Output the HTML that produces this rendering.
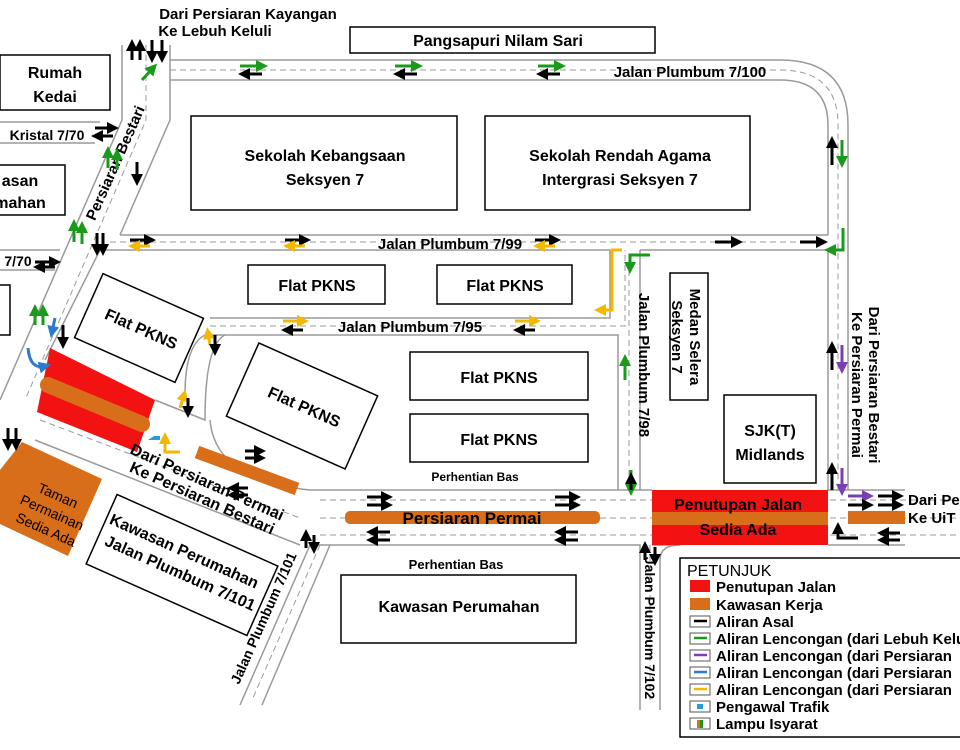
<!DOCTYPE html>
<html><head><meta charset="utf-8"><style>
body{margin:0;background:#fff}
svg{display:block;font-family:"Liberation Sans",Arial,sans-serif;font-weight:bold}
</style></head><body>
<svg width="960" height="750" viewBox="0 0 960 750" xmlns="http://www.w3.org/2000/svg">
<defs>
<marker id="ak" markerWidth="4" markerHeight="4" refX="2" refY="2" orient="auto"><path d="M0,0L4,2L0,4z" fill="#000"/></marker>
<marker id="ag" markerWidth="4" markerHeight="4" refX="2" refY="2" orient="auto"><path d="M0,0L4,2L0,4z" fill="#1a9a1a"/></marker>
<marker id="ay" markerWidth="4" markerHeight="4" refX="2" refY="2" orient="auto"><path d="M0,0L4,2L0,4z" fill="#f5b800"/></marker>
<marker id="ap" markerWidth="4" markerHeight="4" refX="2" refY="2" orient="auto"><path d="M0,0L4,2L0,4z" fill="#7a3fb0"/></marker>
<marker id="ab" markerWidth="4" markerHeight="4" refX="2" refY="2" orient="auto"><path d="M0,0L4,2L0,4z" fill="#2a7ad0"/></marker>
</defs>
<rect width="960" height="750" fill="#fff"/>
<g fill="none" stroke="#9a9a9a" stroke-width="1.5">
<path d="M170,60 H780 Q848,60 848,125 V490"/>
<path d="M170,80 H780 Q828,80 828,125 V235"/>
<path d="M122,45 V120 L0,400"/>
<path d="M170,45 V120 L120,235"/>
<path d="M120,235 H828"/>
<path d="M100,250 H610"/><path d="M640,250 H828 V490"/>
<path d="M610,250 V318 H210"/><path d="M640,250 V490"/>
<path d="M210,335 H618 V490"/>
<path d="M100,250 L45,360"/>
<path d="M155,400 L205,420 Q205,345 225,335"/>
<path d="M205,335 Q185,345 185,395"/>
<path d="M210,420 Q215,480 310,490 H652"/>
<path d="M35,440 L300,545"/>
<path d="M310,545 H640 V710"/><path d="M660,710 V560 Q660,545 680,545 H652"/>
<path d="M310,545 L240,705"/><path d="M330,545 L262,705"/>
<path d="M828,490 H905"/><path d="M828,545 H905"/>
<path d="M0,122 H100"/><path d="M0,143 H95"/>
<path d="M0,250 H60"/><path d="M0,270 H55"/>
</g>
<g fill="none" stroke="#9a9a9a" stroke-width="1" stroke-dasharray="6,4">
<path d="M170,70 H780 Q838,70 838,125 V490"/>
<path d="M146,45 V120 L25,400"/>
<path d="M110,242 H830"/>
<path d="M210,326 H625 V250"/><path d="M629,260 V490"/>
<path d="M320,518 H960"/><path d="M320,500 H960"/><path d="M320,535 H960"/>
<path d="M40,420 L300,518"/>
<path d="M650,545 V700"/><path d="M320,545 L252,700"/>
</g>
<polygon points="50,348 155,400 137,452 37,412" fill="#f31212"/>
<line x1="48" y1="385" x2="142" y2="424" stroke="#d86d1a" stroke-width="16" stroke-linecap="round"/>
<rect x="652" y="490" width="176" height="55" fill="#f31212"/>
<rect x="652" y="512" width="176" height="13" fill="#d86d1a"/>
<rect x="345" y="511" width="255" height="13" rx="5" fill="#d86d1a"/>
<rect x="848" y="511" width="57" height="13" fill="#d86d1a"/>
<line x1="197" y1="452" x2="297" y2="489" stroke="#d86d1a" stroke-width="13"/>
<polygon points="22,442 102,479 68,556 0,524 0,470" fill="#d86d1a"/>
<g fill="#fff" stroke="#000" stroke-width="1.5">
<rect x="0" y="55" width="110" height="55"/>
<rect x="-2" y="165" width="67" height="50"/>
<rect x="-2" y="285" width="12" height="50"/>
<rect x="350" y="27" width="305" height="26"/>
<rect x="191" y="116" width="266" height="94"/>
<rect x="485" y="116" width="265" height="94"/>
<rect x="248" y="265" width="137" height="39"/>
<rect x="437" y="265" width="135" height="39"/>
<rect x="410" y="352" width="178" height="48"/>
<rect x="410" y="414" width="178" height="48"/>
<rect x="670" y="273" width="38" height="127"/>
<rect x="724" y="395" width="92" height="88"/>
<rect x="341" y="575" width="235" height="68"/>
<rect x="-55" y="-35" width="110" height="70" transform="translate(139,328) rotate(24)"/>
<rect x="-65" y="-40" width="130" height="80" transform="translate(302,406) rotate(24)"/>
<rect x="-88" y="-38" width="176" height="76" transform="translate(182,565) rotate(24)"/>
</g>
<g font-size="16" text-anchor="middle" fill="#000">
<text x="55" y="78">Rumah</text><text x="55" y="102">Kedai</text>
<text x="20" y="186">asan</text><text x="20" y="208">mahan</text>
<text x="498" y="46">Pangsapuri Nilam Sari</text>
<text x="325" y="161">Sekolah Kebangsaan</text><text x="325" y="185">Seksyen 7</text>
<text x="620" y="161">Sekolah Rendah Agama</text><text x="620" y="185">Intergrasi Seksyen 7</text>
<text x="317" y="291">Flat PKNS</text><text x="505" y="291">Flat PKNS</text>
<text x="499" y="383">Flat PKNS</text><text x="499" y="445">Flat PKNS</text>
<text x="770" y="436">SJK(T)</text><text x="770" y="460">Midlands</text>
<text x="459" y="612">Kawasan Perumahan</text>
<text transform="translate(139,334) rotate(24)">Flat PKNS</text>
<text transform="translate(302,412) rotate(24)">Flat PKNS</text>
<text transform="translate(182,556) rotate(24)">Kawasan Perumahan</text>
<text transform="translate(178,578) rotate(24)">Jalan Plumbum 7/101</text>
<text transform="translate(205,487) rotate(24)">Dari Persiaran Permai</text>
<text transform="translate(200,503) rotate(24)">Ke Persiaran Bestari</text>
<text x="472" y="524" font-size="17">Persiaran Permai</text>
<text x="738" y="510">Penutupan Jalan</text><text x="738" y="535">Sedia Ada</text>
<text x="248" y="19" font-size="15">Dari Persiaran Kayangan</text>
<text x="215" y="36" font-size="15">Ke Lebuh Keluli</text>
<text x="690" y="77" font-size="15">Jalan Plumbum 7/100</text>
<text x="450" y="249" font-size="15">Jalan Plumbum 7/99</text>
<text x="410" y="332" font-size="15">Jalan Plumbum 7/95</text>
<text x="47" y="140" font-size="14">Kristal 7/70</text>
<text x="18" y="266" font-size="14">7/70</text>
<text x="475" y="481" font-size="12">Perhentian Bas</text>
<text x="456" y="569" font-size="13">Perhentian Bas</text>
<text transform="translate(56,500) rotate(24)" font-size="14" font-weight="normal">Taman</text>
<text transform="translate(50,517) rotate(24)" font-size="14" font-weight="normal">Permainan</text>
<text transform="translate(44,534) rotate(24)" font-size="14" font-weight="normal">Sedia Ada</text>
<text transform="translate(120,165) rotate(-66)" font-size="15">Persiaran Bestari</text>
<text transform="translate(639,365) rotate(90)" font-size="15">Jalan Plumbum 7/98</text>
<text transform="translate(690,337) rotate(90)" font-size="15">Medan Selera</text>
<text transform="translate(672,337) rotate(90)" font-size="15">Seksyen 7</text>
<text transform="translate(869,385) rotate(90)" font-size="15">Dari Persiaran Bestari</text>
<text transform="translate(852,385) rotate(90)" font-size="15">Ke Persiaran Permai</text>
<text transform="translate(645,628) rotate(90)" font-size="14">Jalan Plumbum 7/102</text>
<text transform="translate(268,620) rotate(-66)" font-size="14">Jalan Plumbum 7/101</text>
</g>
<g font-size="15" fill="#000"><text x="908" y="505">Dari Pe</text><text x="908" y="523">Ke UiT</text></g>
<g stroke-width="3" fill="none">
<path d="M240,66 H262" stroke="#1a9a1a" marker-end="url(#ag)"/><path d="M262,74 H244" stroke="#000" marker-end="url(#ak)"/>
<path d="M395,66 H417" stroke="#1a9a1a" marker-end="url(#ag)"/><path d="M417,74 H399" stroke="#000" marker-end="url(#ak)"/>
<path d="M538,66 H560" stroke="#1a9a1a" marker-end="url(#ag)"/><path d="M560,74 H542" stroke="#000" marker-end="url(#ak)"/>
<path d="M130,240 H150" stroke="#000" marker-end="url(#ak)"/><path d="M150,246 H134" stroke="#f5b800" marker-end="url(#ay)"/>
<path d="M285,240 H305" stroke="#000" marker-end="url(#ak)"/><path d="M305,246 H289" stroke="#f5b800" marker-end="url(#ay)"/>
<path d="M535,240 H555" stroke="#000" marker-end="url(#ak)"/><path d="M555,246 H539" stroke="#f5b800" marker-end="url(#ay)"/>
<path d="M715,242 H737" stroke="#000" marker-end="url(#ak)"/><path d="M800,242 H822" stroke="#000" marker-end="url(#ak)"/>
<path d="M283,321 H303" stroke="#f5b800" marker-end="url(#ay)"/><path d="M303,330 H287" stroke="#000" marker-end="url(#ak)"/>
<path d="M515,321 H535" stroke="#f5b800" marker-end="url(#ay)"/><path d="M535,330 H519" stroke="#000" marker-end="url(#ak)"/>
<path d="M832,165 V142" stroke="#000" marker-end="url(#ak)"/><path d="M842,140 V162" stroke="#1a9a1a" marker-end="url(#ag)"/>
<path d="M832,370 V347" stroke="#000" marker-end="url(#ak)"/><path d="M842,345 V368" stroke="#7a3fb0" marker-end="url(#ap)"/>
<path d="M832,490 V468" stroke="#000" marker-end="url(#ak)"/><path d="M842,468 V490" stroke="#7a3fb0" marker-end="url(#ap)"/>
<path d="M848,496 H868" stroke="#7a3fb0" marker-end="url(#ap)"/><path d="M848,505 H868" stroke="#000" marker-end="url(#ak)"/>
<path d="M878,496 H898" stroke="#000" marker-end="url(#ak)"/><path d="M878,505 H898" stroke="#000" marker-end="url(#ak)"/>
<path d="M900,533 H883" stroke="#000" marker-end="url(#ak)"/><path d="M900,540 H883" stroke="#000" marker-end="url(#ak)"/>
<path d="M858,538 H838 V528" stroke="#000" marker-end="url(#ak)"/>
<path d="M367,497 H387" stroke="#000" marker-end="url(#ak)"/><path d="M367,505 H387" stroke="#000" marker-end="url(#ak)"/>
<path d="M555,497 H575" stroke="#000" marker-end="url(#ak)"/><path d="M555,505 H575" stroke="#000" marker-end="url(#ak)"/>
<path d="M390,532 H372" stroke="#000" marker-end="url(#ak)"/><path d="M390,540 H372" stroke="#000" marker-end="url(#ak)"/>
<path d="M578,532 H560" stroke="#000" marker-end="url(#ak)"/><path d="M578,540 H560" stroke="#000" marker-end="url(#ak)"/>
<path d="M625,380 V360" stroke="#1a9a1a" marker-end="url(#ag)"/><path d="M631,470 V490" stroke="#1a9a1a" marker-end="url(#ag)"/>
<path d="M650,255 H630 V268" stroke="#1a9a1a" marker-end="url(#ag)"/><path d="M622,250 H612 V310 H600" stroke="#f5b800" marker-end="url(#ay)"/>
<path d="M843,228 V250 H830" stroke="#1a9a1a" marker-end="url(#ag)"/>
<path d="M132,60 V45" stroke="#000" marker-end="url(#ak)"/><path d="M140,60 V45" stroke="#000" marker-end="url(#ak)"/>
<path d="M152,40 V57" stroke="#000" marker-end="url(#ak)"/><path d="M162,40 V57" stroke="#000" marker-end="url(#ak)"/>
<path d="M142,80 L153,68" stroke="#1a9a1a" marker-end="url(#ag)"/>
<path d="M95,128 H113" stroke="#000" marker-end="url(#ak)"/><path d="M113,136 H97" stroke="#000" marker-end="url(#ak)"/>
<path d="M108,168 V152" stroke="#1a9a1a" marker-end="url(#ag)"/><path d="M117,170 V154" stroke="#1a9a1a" marker-end="url(#ag)"/>
<path d="M137,162 V180" stroke="#000" marker-end="url(#ak)"/>
<path d="M74,242 V225" stroke="#1a9a1a" marker-end="url(#ag)"/><path d="M82,244 V227" stroke="#1a9a1a" marker-end="url(#ag)"/>
<path d="M97,233 V250" stroke="#000" marker-end="url(#ak)"/><path d="M103,233 V250" stroke="#000" marker-end="url(#ak)"/>
<path d="M35,262 H55" stroke="#000" marker-end="url(#ak)"/><path d="M55,267 H39" stroke="#000" marker-end="url(#ak)"/>
<path d="M35,325 V310" stroke="#1a9a1a" marker-end="url(#ag)"/><path d="M43,325 V310" stroke="#1a9a1a" marker-end="url(#ag)"/>
<path d="M63,325 V343" stroke="#000" marker-end="url(#ak)"/><path d="M55,318 L52,332" stroke="#2a7ad0" marker-end="url(#ab)"/>
<path d="M28,348 Q30,370 45,366" stroke="#2a7ad0" marker-end="url(#ab)"/>
<path d="M8,428 V445" stroke="#000" marker-end="url(#ak)"/><path d="M16,428 V445" stroke="#000" marker-end="url(#ak)"/>
<path d="M210,345 L208,333" stroke="#f5b800" marker-end="url(#ay)"/><path d="M215,335 V350" stroke="#000" marker-end="url(#ak)"/>
<path d="M180,408 L184,395" stroke="#f5b800" marker-end="url(#ay)"/><path d="M188,398 V412" stroke="#000" marker-end="url(#ak)"/>
<path d="M180,452 H165 V438" stroke="#f5b800" marker-end="url(#ay)"/>
<path d="M245,451 H260" stroke="#000" marker-end="url(#ak)"/><path d="M245,458 H260" stroke="#000" marker-end="url(#ak)"/>
<path d="M248,488 H233" stroke="#000" marker-end="url(#ak)"/><path d="M248,495 H233" stroke="#000" marker-end="url(#ak)"/>
<path d="M306,548 V535" stroke="#000" marker-end="url(#ak)"/><path d="M314,535 V548" stroke="#000" marker-end="url(#ak)"/>
<path d="M645,560 V547" stroke="#000" marker-end="url(#ak)"/><path d="M655,547 V560" stroke="#000" marker-end="url(#ak)"/>
<path d="M631,490 V478" stroke="#000" marker-end="url(#ak)"/>
</g>
<path d="M148,440 l6,-4 h6 v4 h-6 z" fill="#2a9ad8"/>
<rect x="680" y="558" width="285" height="179" fill="#fff" stroke="#000" stroke-width="1.5"/>
<g font-size="15" fill="#000">
<text x="687" y="576" font-weight="normal" font-size="16">PETUNJUK</text>
<rect x="690" y="580" width="20" height="12" fill="#f31212"/><text x="716" y="592">Penutupan Jalan</text>
<rect x="690" y="598" width="20" height="12" fill="#d86d1a"/><text x="716" y="610">Kawasan Kerja</text>
<text x="716" y="627">Aliran Asal</text>
<text x="716" y="644">Aliran Lencongan (dari Lebuh Keluli)</text>
<text x="716" y="661">Aliran Lencongan (dari Persiaran</text>
<text x="716" y="678">Aliran Lencongan (dari Persiaran</text>
<text x="716" y="695">Aliran Lencongan (dari Persiaran</text>
<text x="716" y="712">Pengawal Trafik</text>
<text x="716" y="729">Lampu Isyarat</text>
</g>
<g fill="#fff" stroke="#555" stroke-width="1">
<rect x="690" y="616" width="20" height="11"/><rect x="690" y="633" width="20" height="11"/>
<rect x="690" y="650" width="20" height="11"/><rect x="690" y="667" width="20" height="11"/>
<rect x="690" y="684" width="20" height="11"/><rect x="690" y="701" width="20" height="11"/>
<rect x="690" y="718" width="20" height="11"/>
</g>
<g stroke-width="2.5">
<line x1="694" y1="621" x2="707" y2="621" stroke="#000"/>
<line x1="694" y1="638" x2="707" y2="638" stroke="#1a9a1a"/>
<line x1="694" y1="655" x2="707" y2="655" stroke="#7a3fb0"/>
<line x1="694" y1="672" x2="707" y2="672" stroke="#2a7ad0"/>
<line x1="694" y1="689" x2="707" y2="689" stroke="#f5b800"/>
</g>
<rect x="697" y="704" width="6" height="5" fill="#2a9ad8"/>
<rect x="697" y="720" width="3" height="8" fill="#d86d1a"/><rect x="700" y="720" width="3" height="8" fill="#1a9a1a"/>
</svg>
</body></html>
